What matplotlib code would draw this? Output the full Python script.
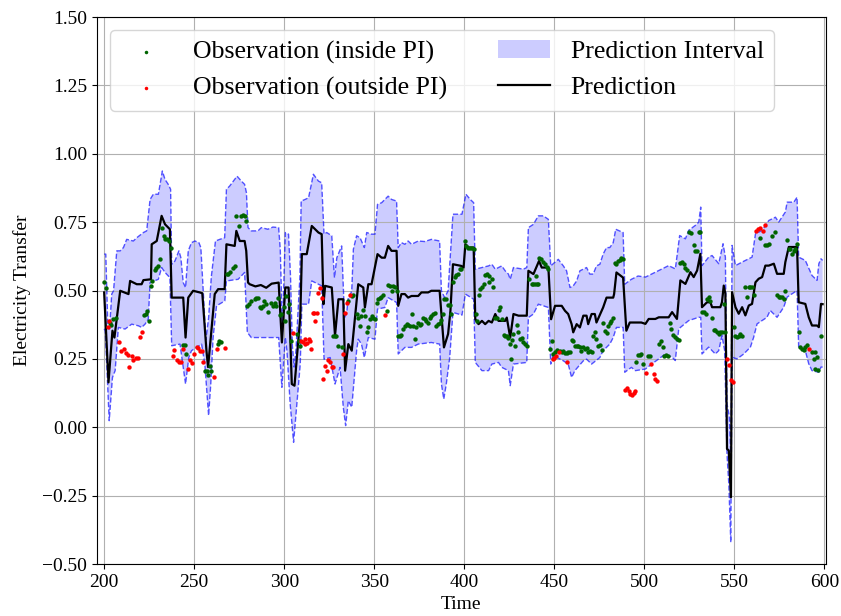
import numpy as np
import matplotlib
matplotlib.use("Agg")
import matplotlib.pyplot as plt

plt.rcParams['font.family'] = ['Liberation Serif', 'DejaVu Serif']
plt.rcParams['xtick.labelsize'] = 14
plt.rcParams['ytick.labelsize'] = 14
plt.rcParams['axes.labelsize'] = 14

# values: (time, value)
prediction = [
    (200, 0.493), (202.4, 0.164), (204.6, 0.353), (205.7, 0.328), (208.9, 0.499), (213.5, 0.487),
    (214.4, 0.535), (216.2, 0.529), (218.1, 0.523), (220.8, 0.523), (221.8, 0.538), (226, 0.541),
    (226.4, 0.669), (229.2, 0.681), (231.9, 0.773), (233.8, 0.742), (236.5, 0.724), (237.5, 0.474),
    (243.9, 0.474), (245.2, 0.328), (246.7, 0.474), (249.4, 0.499), (253.1, 0.493), (254.5, 0.49),
    (256.8, 0.28), (257.7, 0.22), (261.4, 0.487), (263.3, 0.505), (266.9, 0.505), (267.9, 0.669),
    (272.5, 0.663), (273.4, 0.718), (275.3, 0.681), (278, 0.681), (278.9, 0.645), (279.9, 0.529),
    (280.8, 0.523), (284, 0.515), (287, 0.52), (290, 0.51), (293, 0.525), (296.9, 0.529),
    (298.7, 0.31), (300.6, 0.511), (302.4, 0.511), (304.2, 0.158), (305.7, 0.152), (308.9, 0.401),
    (309.8, 0.633), (312.5, 0.633), (315.3, 0.736), (319, 0.712), (320.8, 0.706), (321.8, 0.45),
    (322.7, 0.517), (326.4, 0.511), (328.2, 0.335), (330.1, 0.468), (332.8, 0.468), (333.8, 0.207),
    (335.6, 0.304), (337.5, 0.28), (341.1, 0.523), (343.9, 0.511), (344.8, 0.438), (346.7, 0.523),
    (348.5, 0.523), (351.8, 0.633), (354.1, 0.62), (355.9, 0.62), (357.7, 0.663), (359.6, 0.645),
    (362.4, 0.645), (363.3, 0.444), (365.1, 0.487), (367, 0.487), (368.8, 0.474), (370.7, 0.48),
    (374.4, 0.48), (376.2, 0.493), (379.9, 0.493), (381.7, 0.499), (386.3, 0.499), (388.7, 0.292),
    (391, 0.341), (392.3, 0.426), (393.7, 0.596), (398.3, 0.59), (399.6, 0.584), (400.6, 0.669),
    (402.4, 0.657), (405.2, 0.657), (406.1, 0.395), (407.9, 0.377), (409.8, 0.389), (411.6, 0.377),
    (413.5, 0.389), (415.3, 0.383), (417.2, 0.414), (419, 0.389), (422.7, 0.389), (423.6, 0.401),
    (425.5, 0.328), (427.3, 0.414), (430.1, 0.408), (434.7, 0.408), (435.6, 0.572), (438.4, 0.56),
    (441.5, 0.608), (443, 0.584), (446.7, 0.584), (448.2, 0.395), (450.4, 0.444), (454.1, 0.444),
    (455.9, 0.426), (457.7, 0.414), (459.6, 0.377), (460.5, 0.347), (462.4, 0.377), (464.2, 0.365),
    (466.1, 0.408), (467.9, 0.408), (468.8, 0.377), (470.7, 0.414), (472.5, 0.414), (473.4, 0.383),
    (477.1, 0.438), (479, 0.474), (482.7, 0.474), (483.2, 0.487), (484.5, 0.566), (488.2, 0.547),
    (490, 0.353), (491.9, 0.383), (498.3, 0.383), (500.6, 0.378), (502.4, 0.396), (506.1, 0.396),
    (508, 0.402), (513.5, 0.402), (515.4, 0.421), (518.1, 0.396), (520, 0.537), (522.8, 0.524),
    (525.6, 0.567), (527.4, 0.549), (529.3, 0.573), (531.1, 0.634), (532, 0.439), (534.8, 0.457),
    (536.7, 0.457), (537.6, 0.439), (542.2, 0.439), (543.1, 0.457), (544.1, 0.518), (545, 0.488),
    (545.9, -0.079), (546.9, -0.085), (548.1, -0.256), (548.7, 0.494), (550.6, 0.439), (552.4, 0.415),
    (554.3, 0.439), (556.1, 0.409), (558, 0.445), (559.8, 0.451), (561.7, 0.53), (563.5, 0.543),
    (565.4, 0.549), (567.2, 0.591), (569.1, 0.591), (571.9, 0.598), (573.7, 0.561), (577.4, 0.561),
    (578.3, 0.604), (580.2, 0.659), (584.8, 0.659), (585.7, 0.457), (589.4, 0.451), (591.3, 0.402),
    (593.1, 0.372), (595.9, 0.372), (596.9, 0.366), (598.1, 0.451), (599, 0.45),
]

upper = [
    (200, 0.633), (200.9, 0.633), (202, 0.377), (203, 0.36), (204.2, 0.487), (205.2, 0.499),
    (207, 0.645), (208.9, 0.645), (210.7, 0.657), (212.5, 0.687), (216.2, 0.681), (218.1, 0.693),
    (221.8, 0.712), (223.6, 0.718), (225.5, 0.833), (227.3, 0.852), (230.1, 0.852), (232.3, 0.937),
    (233.8, 0.906), (235.6, 0.888), (236.9, 0.87), (237.5, 0.596), (239.3, 0.608), (241.5, 0.645),
    (242.6, 0.62), (243.9, 0.529), (245.2, 0.511), (246.7, 0.645), (248.5, 0.675), (250.4, 0.681),
    (252.6, 0.675), (253.7, 0.657), (255, 0.5), (256.5, 0.32), (258, 0.4), (259.5, 0.55),
    (261.8, 0.681), (264.2, 0.687), (266.9, 0.693), (267.9, 0.87), (269.7, 0.882), (273.8, 0.918),
    (276.2, 0.9), (278, 0.888), (279, 0.858), (279.9, 0.73), (281.7, 0.718), (285.4, 0.718),
    (287.3, 0.73), (290.9, 0.724), (293.7, 0.732), (296.9, 0.73), (297.8, 0.65), (299, 0.35),
    (300.6, 0.712), (302.4, 0.706), (303.5, 0.55), (304.5, 0.3), (305.5, 0.22), (306.5, 0.28),
    (307.5, 0.4), (308.7, 0.55), (309.4, 0.827), (311.6, 0.833), (313.5, 0.839), (316.2, 0.925),
    (319, 0.9), (320.8, 0.894), (322.1, 0.706), (323.6, 0.712), (326.4, 0.7), (327.9, 0.547),
    (329.2, 0.62), (331.9, 0.663), (333.5, 0.40), (334.7, 0.42), (335.5, 0.47), (336.5, 0.48),
    (337.5, 0.5), (338.4, 0.651), (340.2, 0.7), (342.1, 0.693), (344.5, 0.657), (345.8, 0.712),
    (348.5, 0.706), (350.4, 0.706), (351.8, 0.815), (354.1, 0.821), (357.7, 0.845), (359.6, 0.833),
    (362.4, 0.827), (363.3, 0.657), (365.1, 0.675), (367, 0.669), (368.8, 0.681), (370.7, 0.669),
    (374.4, 0.681), (378, 0.679), (381.7, 0.687), (386.3, 0.681), (387.3, 0.499), (389.1, 0.474),
    (391, 0.499), (393.7, 0.779), (398.7, 0.779), (400.9, 0.852), (403.3, 0.833), (405.2, 0.821),
    (406.1, 0.578), (409.8, 0.584), (413.5, 0.59), (415.3, 0.596), (417.2, 0.578), (420.8, 0.59),
    (422.7, 0.572), (424.5, 0.56), (425.5, 0.541), (427.3, 0.584), (432.8, 0.578), (434.7, 0.584),
    (435.6, 0.73), (438.4, 0.742), (441.1, 0.773), (443.9, 0.773), (446.7, 0.76), (448, 0.59),
    (452.2, 0.614), (455, 0.59), (456.8, 0.572), (458.7, 0.511), (460.5, 0.517), (462.4, 0.535),
    (464.2, 0.572), (467.9, 0.584), (469.7, 0.56), (471.6, 0.56), (473.4, 0.59), (475.3, 0.596),
    (477.1, 0.633), (479, 0.657), (480.8, 0.657), (482.7, 0.675), (484.1, 0.724), (488.2, 0.712),
    (489.1, 0.523), (492.8, 0.541), (496.5, 0.553), (500.6, 0.549), (504.3, 0.561), (508, 0.573),
    (511.7, 0.585), (513.5, 0.591), (517.2, 0.579), (519.6, 0.701), (522.8, 0.689), (524.6, 0.72),
    (528.3, 0.738), (530.2, 0.75), (531.3, 0.805), (532, 0.591), (535.7, 0.622), (537.6, 0.628),
    (541.3, 0.598), (543.7, 0.671), (545, 0.622), (545.9, 0.085), (547.2, 0.04), (548.1, -0.12),
    (548.7, 0.665), (550.6, 0.591), (554.3, 0.604), (559.8, 0.622), (561.7, 0.707), (565.4, 0.72),
    (569.1, 0.756), (572.8, 0.768), (574.6, 0.75), (578.3, 0.787), (579.3, 0.823), (583, 0.823),
    (584.8, 0.841), (585.7, 0.622), (589.4, 0.61), (593.1, 0.555), (595.9, 0.537), (596.9, 0.598),
    (598.1, 0.616), (599, 0.61),
]

lower = [
    (200, 0.36), (200.6, 0.353), (202.8, 0.024), (204.6, 0.182), (206.1, 0.207), (207.9, 0.365),
    (211.6, 0.359), (215.3, 0.377), (219, 0.371), (220.8, 0.365), (222.7, 0.377), (224.5, 0.395),
    (225.5, 0.529), (230.1, 0.541), (231.9, 0.584), (233.8, 0.566), (236.5, 0.547), (237.5, 0.298),
    (242.1, 0.304), (243.4, 0.243), (245.2, 0.158), (247, 0.255), (248.5, 0.28), (254.1, 0.304),
    (255.9, 0.231), (258, 0.043), (259.2, 0.158), (260.5, 0.328), (262.4, 0.444), (267, 0.462),
    (267.9, 0.535), (274.4, 0.541), (278, 0.566), (279.5, 0.347), (281.7, 0.328), (294.6, 0.328),
    (296.9, 0.328), (298.7, 0.146), (300.6, 0.328), (301.5, 0.28), (303.3, 0.085), (305.2, -0.055),
    (307, 0.085), (308.9, 0.231), (309.8, 0.45), (313.5, 0.45), (315.3, 0.535), (320.8, 0.517),
    (322.1, 0.249), (325.5, 0.255), (328.2, 0.158), (331, 0.219), (332.8, 0.073), (334.1, 0.006),
    (335.6, 0.097), (337.5, 0.073), (340.2, 0.28), (341.1, 0.322), (342.9, 0.304), (344.5, 0.255),
    (346.7, 0.328), (350.4, 0.322), (351.8, 0.432), (355.9, 0.438), (357.7, 0.474), (362.4, 0.456),
    (363.3, 0.268), (367, 0.292), (370.7, 0.292), (374.4, 0.304), (381.7, 0.31), (386.3, 0.304),
    (387.3, 0.158), (388.6, 0.103), (390, 0.158), (391.9, 0.255), (393.7, 0.42), (398.7, 0.41),
    (400.6, 0.487), (405.2, 0.468), (406.1, 0.237), (409.8, 0.207), (413.5, 0.207), (415.3, 0.231),
    (419, 0.237), (420.8, 0.219), (424.5, 0.207), (425.5, 0.152), (427.3, 0.231), (434.7, 0.237),
    (435.6, 0.401), (438.4, 0.414), (441.1, 0.45), (446.7, 0.438), (448, 0.231), (449.4, 0.262),
    (455, 0.243), (457.7, 0.231), (459.6, 0.182), (461.4, 0.207), (466.1, 0.243), (467.9, 0.249),
    (470.7, 0.231), (475.3, 0.255), (477.1, 0.28), (480.8, 0.304), (482.7, 0.328), (484.5, 0.365),
    (488.2, 0.365), (489.1, 0.201), (492.8, 0.219), (495, 0.207), (500.6, 0.213), (504.3, 0.232),
    (508, 0.25), (511.7, 0.268), (515.4, 0.256), (517.2, 0.244), (519.1, 0.36), (524.6, 0.39),
    (530.2, 0.402), (531.3, 0.402), (532, 0.268), (535.7, 0.293), (539.4, 0.268), (541.3, 0.28),
    (543.1, 0.335), (544.6, 0.28), (545.9, -0.1), (546.9, -0.207), (548, -0.421), (548.7, 0.256),
    (551.5, 0.25), (555.2, 0.268), (558.9, 0.293), (560.7, 0.329), (562.6, 0.378), (568.1, 0.402),
    (569.9, 0.427), (573.7, 0.402), (577.4, 0.439), (579.3, 0.476), (584.8, 0.5), (585.7, 0.293),
    (589.4, 0.28), (591.3, 0.232), (593.1, 0.207), (596.9, 0.201), (598.1, 0.22), (599, 0.22),
]

obs_inside = [
    (200, 0.53), (201, 0.51), (203, 0.38), (204, 0.375), (205, 0.395), (206.5, 0.40),
    (222, 0.41), (223, 0.415), (223.6, 0.425), (225, 0.39), (226, 0.517), (226.8, 0.533),
    (228, 0.574), (229, 0.584), (230, 0.59), (231, 0.614), (232, 0.73), (233, 0.70),
    (234, 0.69), (235, 0.687), (236, 0.68), (237, 0.655), (244, 0.30), (244.8, 0.30),
    (245.7, 0.268), (256, 0.207), (256.9, 0.207), (257.8, 0.19), (259, 0.225), (259.6, 0.207),
    (263, 0.306), (264, 0.316), (265, 0.31), (268, 0.56), (269, 0.56), (269.7, 0.566),
    (271.6, 0.584), (272.5, 0.59), (273.4, 0.772), (274.7, 0.736), (275.8, 0.772), (277, 0.776),
    (278, 0.772), (278.5, 0.754), (279.5, 0.444), (280.7, 0.45), (281.7, 0.462), (283.6, 0.468),
    (284.5, 0.474), (285.4, 0.474), (286.3, 0.438), (287.3, 0.436), (288.2, 0.444), (289, 0.462),
    (290, 0.45), (290.8, 0.423), (292.7, 0.456), (293.7, 0.444), (294.6, 0.456), (295.5, 0.444),
    (296.5, 0.474), (297.4, 0.41), (298.3, 0.414), (299.6, 0.438), (300.2, 0.39), (301, 0.48),
    (302, 0.423), (302.8, 0.45), (303.9, 0.316), (307, 0.34), (308, 0.314), (308.9, 0.296),
    (327.3, 0.335), (328.2, 0.332), (329, 0.332), (330, 0.298), (331.9, 0.292), (335.6, 0.462),
    (337.5, 0.48), (338.4, 0.484), (340.2, 0.414), (341, 0.40), (342, 0.371), (342.9, 0.408),
    (343.8, 0.428), (344.8, 0.408), (345.8, 0.347), (346.7, 0.365), (347.6, 0.395), (348.5, 0.408),
    (349.4, 0.40), (350.4, 0.395), (351.3, 0.456), (352.2, 0.468), (353.1, 0.474), (354, 0.477),
    (355, 0.484), (356.8, 0.426), (357.7, 0.52), (358.7, 0.517), (359.6, 0.50), (360.5, 0.517),
    (361.4, 0.513), (362.4, 0.499), (363.3, 0.335), (364.2, 0.335), (365, 0.338), (366, 0.359),
    (367, 0.371), (368, 0.377), (368.8, 0.375), (369.7, 0.371), (370.7, 0.414), (371.6, 0.371),
    (372.5, 0.322), (373.4, 0.365), (374.4, 0.38), (375.3, 0.375), (376.2, 0.377), (377.1, 0.40),
    (378, 0.395), (379, 0.389), (380, 0.383), (380.8, 0.40), (381.7, 0.408), (382.7, 0.414),
    (383.6, 0.417), (384.5, 0.371), (385.4, 0.377), (386.3, 0.383), (387.3, 0.392), (388.2, 0.414),
    (389, 0.468), (390, 0.468), (391, 0.448), (392, 0.448), (392.8, 0.414), (393.7, 0.53),
    (394.6, 0.55), (395.6, 0.557), (396.5, 0.562), (397.4, 0.578), (398.3, 0.58), (400.2, 0.68),
    (400.9, 0.663), (402, 0.655), (403.3, 0.657), (404.2, 0.657), (405.2, 0.653), (406.5, 0.414),
    (407, 0.39), (408, 0.484), (408.9, 0.505), (409.8, 0.511), (410.7, 0.523), (411.6, 0.557),
    (412.5, 0.562), (413.5, 0.553), (413.8, 0.53), (415.3, 0.541), (416.2, 0.513), (417.2, 0.40),
    (418, 0.40), (419, 0.428), (420, 0.438), (420.8, 0.395), (421.8, 0.338), (422.7, 0.335),
    (423.6, 0.335), (424.5, 0.328), (425.5, 0.304), (426, 0.25), (426.4, 0.319), (427.3, 0.34),
    (428.2, 0.298), (429, 0.375), (430, 0.35), (431, 0.322), (432, 0.328), (432.8, 0.31),
    (433.8, 0.304), (434.7, 0.298), (436, 0.541), (437.5, 0.523), (438.4, 0.523), (439.3, 0.523),
    (439.8, 0.553), (440.2, 0.523), (441, 0.523), (441.5, 0.62), (442.6, 0.614), (443.9, 0.606),
    (444.8, 0.596), (445.8, 0.586), (446.7, 0.578), (447.6, 0.286), (448.5, 0.316), (449.4, 0.268),
    (450.4, 0.274), (451.3, 0.282), (453, 0.28), (454, 0.274), (455, 0.277), (456, 0.27),
    (456.8, 0.27), (457.7, 0.274), (458.7, 0.274), (459.6, 0.319), (460.5, 0.316), (461.4, 0.298),
    (462.4, 0.298), (463.3, 0.298), (464.2, 0.292), (465, 0.28), (466, 0.292), (467, 0.286),
    (468, 0.29), (468.8, 0.274), (469.7, 0.28), (470.7, 0.274), (471.6, 0.335), (472.5, 0.347),
    (473.4, 0.322), (474.4, 0.298), (475.3, 0.302), (476.2, 0.282), (477.1, 0.38), (478, 0.353),
    (479, 0.343), (480, 0.371), (480.8, 0.383), (481.7, 0.389), (482.7, 0.40), (483.6, 0.602),
    (484.5, 0.596), (485.4, 0.608), (486.3, 0.61), (487.3, 0.618), (488.2, 0.614), (495.6, 0.24),
    (496.5, 0.265), (497.4, 0.265), (498.3, 0.268), (499, 0.23), (502, 0.259), (503.3, 0.259),
    (508, 0.305), (509, 0.317), (510.2, 0.293), (511, 0.262), (512, 0.266), (513, 0.262),
    (514, 0.38), (515, 0.36), (515.7, 0.339), (516.9, 0.33), (518, 0.323), (519, 0.32),
    (520, 0.60), (521, 0.604), (522, 0.598), (522.8, 0.583), (523.7, 0.576), (525, 0.713),
    (526, 0.71), (527.4, 0.665), (528.3, 0.646), (529.3, 0.644), (530.2, 0.713), (531, 0.713),
    (532, 0.42), (533, 0.42), (534, 0.415), (534.8, 0.47), (535.7, 0.476), (536.7, 0.463),
    (537.6, 0.40), (538.5, 0.356), (539.4, 0.354), (540.4, 0.348), (541.3, 0.341), (542.2, 0.348),
    (543, 0.348), (544, 0.451), (545, 0.348), (549.6, 0.366), (550.6, 0.332), (551.5, 0.329),
    (552.4, 0.335), (553.3, 0.341), (554.3, 0.335), (556, 0.512), (557, 0.478), (558, 0.512),
    (558.9, 0.512), (559.8, 0.512), (560.7, 0.482), (564.4, 0.693), (567.2, 0.665), (568.1, 0.665),
    (569, 0.67), (571, 0.70), (572.4, 0.713), (573.7, 0.482), (574.6, 0.476), (575.5, 0.478),
    (576.5, 0.476), (577.4, 0.47), (578.3, 0.50), (579.3, 0.683), (580.2, 0.652), (581.1, 0.652),
    (582, 0.634), (583, 0.646), (583.9, 0.652), (584.8, 0.67), (585.7, 0.348), (586.7, 0.293),
    (587.6, 0.287), (588.5, 0.283), (589.4, 0.293), (590.4, 0.30), (593.1, 0.274), (594, 0.25),
    (594.5, 0.213), (595, 0.274), (596, 0.256), (596.5, 0.211), (598, 0.335),
]

obs_outside = [
    (202, 0.365), (202.5, 0.39), (208, 0.31), (209.5, 0.28), (211, 0.285), (212, 0.27),
    (213.5, 0.265), (214, 0.22), (215.3, 0.26), (216, 0.245), (217.5, 0.253), (219, 0.253),
    (220, 0.33), (221, 0.35), (238, 0.26), (239, 0.282), (240.5, 0.245), (241.5, 0.24),
    (242.6, 0.24), (244, 0.285), (246.7, 0.213), (247.8, 0.245), (249, 0.234), (250, 0.268),
    (251.3, 0.295), (252.2, 0.29), (253, 0.277), (254.4, 0.277), (255, 0.237), (261, 0.185),
    (262.5, 0.286), (267, 0.29), (304.6, 0.343), (309.4, 0.316), (310.7, 0.31), (311.6, 0.322),
    (311.8, 0.304), (312.5, 0.307), (313.5, 0.322), (314.4, 0.316), (314.9, 0.286), (315.7, 0.417),
    (316.8, 0.417), (317.2, 0.39), (318, 0.417), (319, 0.49), (320, 0.51), (320.8, 0.472),
    (321.8, 0.176), (322.7, 0.225), (323.6, 0.207), (324.5, 0.246), (325.5, 0.237), (326.4, 0.221),
    (327.3, 0.219), (332.8, 0.268), (333.8, 0.417), (334.7, 0.456), (336.5, 0.484), (355.9, 0.411),
    (449, 0.25), (450, 0.255), (450.7, 0.26), (452.6, 0.274), (456.8, 0.237), (489, 0.136),
    (490.4, 0.144), (491.3, 0.131), (492.2, 0.122), (493.2, 0.119), (494.3, 0.124), (494.8, 0.132),
    (500.9, 0.20), (503.9, 0.23), (505.2, 0.195), (506, 0.177), (507, 0.168), (545.9, 0.25),
    (546.9, 0.228), (548, 0.171), (549, 0.165), (562, 0.716), (563, 0.726), (564, 0.73),
    (565.7, 0.716), (566.9, 0.741), (591.3, 0.287),
]

pred_t, pred_v = np.array(prediction).T
up_t, up_v = np.array(upper).T
lo_t, lo_v = np.array(lower).T
in_t, in_v = np.array(obs_inside).T
out_t, out_v = np.array(obs_outside).T

fig = plt.figure(figsize=(8.41, 6.16), dpi=100)
ax = fig.add_subplot(1, 1, 1)
fig.subplots_adjust(left=0.1153, right=0.982, top=0.9724, bottom=0.0844)

# interval as one polygon: upper edge forwards, lower edge backwards
band = ax.fill(np.concatenate([up_t, lo_t[::-1]]), np.concatenate([up_v, lo_v[::-1]]),
               color='blue', alpha=0.2, linewidth=0, label='Prediction Interval')[0]
ax.plot(up_t, up_v, '--', color='blue', alpha=0.65, lw=1)
ax.plot(lo_t, lo_v, '--', color='blue', alpha=0.65, lw=1)
line, = ax.plot(pred_t, pred_v, color='black', lw=1.6, label='Prediction')
sc_in = ax.scatter(in_t, in_v, s=10, color='darkgreen', linewidths=0, zorder=3,
                   label='Observation (inside PI)')
sc_out = ax.scatter(out_t, out_v, s=10, color='red', linewidths=0, zorder=3,
                    label='Observation (outside PI)')

ax.set_xlim(196, 600.8)
ax.set_ylim(-0.5, 1.5)
ax.set_yticks(np.arange(-0.5, 1.51, 0.25))
ax.set_xticks(np.arange(200, 601, 50))
ax.grid(True)
ax.set_xlabel('Time')
ax.set_ylabel('Electricity Transfer', labelpad=8)

ax.legend(handles=[sc_in, sc_out, band, line], ncol=2, loc='upper left',
          fontsize=18.6, markerscale=0.8)

fig.savefig('out.png', dpi=100)
